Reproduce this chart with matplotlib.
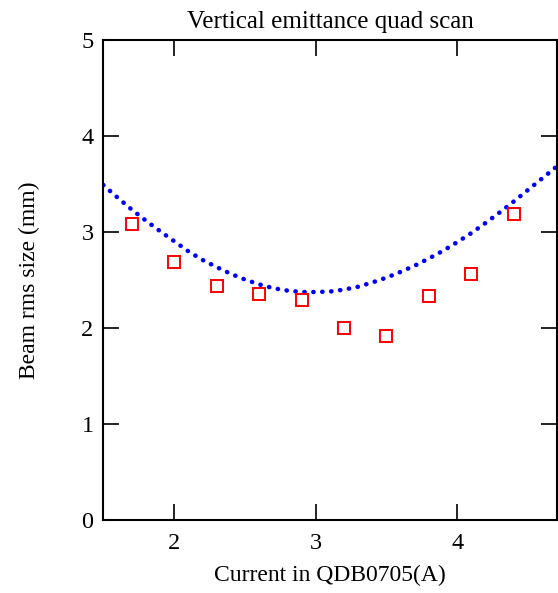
import matplotlib
matplotlib.use("Agg")
import matplotlib.pyplot as plt

plt.rcParams['font.family'] = ['Liberation Serif', 'DejaVu Serif']

# Measured beam size vs quad current
current = [1.7, 2.0, 2.3, 2.6, 2.9, 3.2, 3.5, 3.8, 4.1, 4.4]
beam_size = [3.08, 2.69, 2.44, 2.35, 2.29, 2.00, 1.92, 2.33, 2.56, 3.19]

# Fitted curve
fit_current = [1.5, 1.6, 1.7, 1.8, 1.9, 2.0, 2.1, 2.2, 2.3, 2.4, 2.5,
               2.6, 2.7, 2.8, 2.9, 3.0, 3.1, 3.2, 3.3, 3.4, 3.5, 3.6,
               3.7, 3.8, 3.9, 4.0, 4.1, 4.2, 4.3, 4.4, 4.5, 4.6, 4.7]
fit_size = [3.49, 3.36, 3.235, 3.12, 3.01, 2.905, 2.80, 2.71, 2.635, 2.565, 2.505,
            2.455, 2.415, 2.39, 2.375, 2.375, 2.38, 2.40, 2.43, 2.475, 2.525, 2.585,
            2.65, 2.725, 2.805, 2.895, 2.99, 3.095, 3.205, 3.32, 3.44, 3.56, 3.68]

x_ticks = [2, 3, 4]
y_ticks = [0, 1, 2, 3, 4, 5]

fig = plt.figure(figsize=(5.58, 5.93), dpi=100)
ax = fig.add_axes([0.185, 0.1231, 0.8135, 0.8094])

ax.plot(fit_current, fit_size, color='#0000ff', linestyle=(0, (0.05, 1.9)),
        linewidth=3.3, dash_capstyle='round', zorder=2)
ax.plot(current, beam_size, linestyle='none', marker='s', markersize=9,
        markerfacecolor='none', markeredgecolor='#ff0000', markeredgewidth=1.4,
        zorder=3)

ax.set_xlim(1.5, 4.705)
ax.set_ylim(0, 5)
ax.set_xticks(x_ticks)
ax.set_yticks(y_ticks)
ax.tick_params(direction='in', length=11.5, width=1.2, top=True, right=True,
               labelsize=17.5, colors='black')
ax.tick_params(axis='x', pad=9)
ax.tick_params(axis='y', pad=7)
for s in ax.spines.values():
    s.set_linewidth(1.5)

ax.set_title('Vertical emittance quad scan', fontsize=18, pad=9)
ax.set_xlabel('Current in QDB0705(A)', fontsize=17, labelpad=8)
ax.set_ylabel('Beam rms size (mm)', fontsize=17, labelpad=30)

fig.savefig('out.png', dpi=100)
